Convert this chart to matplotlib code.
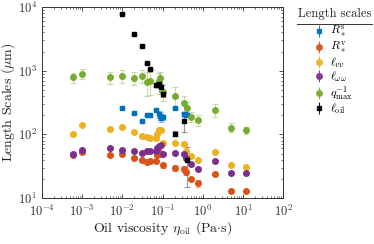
import numpy as np
import matplotlib.pyplot as plt
from matplotlib.lines import Line2D

plt.rcParams['font.family'] = 'serif'
plt.rcParams['font.serif'] = ['cmr10', 'DejaVu Serif']
plt.rcParams['mathtext.fontset'] = 'cm'
plt.rcParams['axes.formatter.use_mathtext'] = True

# viscosities (Pa s) and length scales (um)
eta_s = [0.01, 0.02, 0.03, 0.04, 0.05, 0.07, 0.08, 0.085, 0.09, 0.1, 0.2, 0.35, 0.37, 0.4]
R_s = [258, 213, 160, 198, 203, 238, 208, 195, 182, 186, 260, 205, 210, 200]
R_s_err = [6, 6, 6, 6, 6, 8, 25, 30, 25, 15, 8, 20, 15, 15]

eta = [6e-4, 1e-3, 5e-3, 1e-2, 2e-2, 3e-2, 4e-2, 5e-2, 7e-2, 7.5e-2, 8e-2, 9e-2, 0.1,
       0.2, 0.35, 0.38, 0.5, 0.75, 2, 5, 12]
R_v = [47, 53, 48, 49, 43, 39, 37, 38, 38, 47, 52, 50, 33, 30, 29, 26, 20, 17, 24, 13, 13]
R_v_err = [2, 2, 2, 2, 2, 2, 2, 2, 2, 3, 3, 3, 3, 3, 3, 3, 1.5, 2, 1, 0.5, 0.5]
l_vv = [102, 140, 120, 130, 110, 95, 90, 89, 88, 100, 118, 118, 73, 73, 71, 54, 45, 39, 52, 33, 31]
l_vv_err = [8, 6, 4, 6, 6, 4, 3, 3, 3, 4, 4, 4, 3, 3, 3, 3, 2, 2, 2, 1.5, 1.5]
l_ww = [50, 56, 61, 56, 54, 51, 55, 55, 55, 60, 65, 69, 50, 51, 49, 42, 34, 29, 38, 25, 24.5]
l_ww_err = [2, 3, 2, 2, 2, 2, 2, 2, 2, 2, 2, 2, 2, 2, 2, 2, 2, 1.5, 1.5, 1, 1]

eta_q = [6e-4, 1e-3, 5e-3, 1e-2, 2e-2, 3e-2, 4e-2, 5e-2, 8e-2, 8.5e-2, 0.1, 0.2, 0.35,
         0.4, 0.5, 0.75, 2, 5, 12]
q_inv = [790, 900, 790, 830, 780, 820, 670, 680, 680, 770, 470, 400, 315, 255, 190, 168, 245, 128, 117]
q_inv_err = [140, 150, 170, 180, 190, 190, 270, 270, 250, 200, 130, 150, 90, 70, 35, 35, 55, 20, 15]

eta_oil = [0.01, 0.02, 0.03, 0.04, 0.05, 0.07, 0.075, 0.08, 0.09, 0.1, 0.2, 0.35, 0.4]
l_oil = [7900, 3700, 2450, 1300, 1050, 600, 600, 615, 545, 425, 103, 163, 39]
l_oil_err = [150, 100, 80, 40, 30, 40, 40, 60, 70, 45, 9, 55, 24]

series = [
    (eta_s, R_s, R_s_err, '#0072BD', 's', 2.6, r'$R_*^{\mathrm{s}}$'),
    (eta, R_v, R_v_err, '#D95319', 'o', 4.0, r'$R_*^{\mathrm{v}}$'),
    (eta, l_vv, l_vv_err, '#EDB120', 'o', 4.0, r'$\ell_{vv}$'),
    (eta, l_ww, l_ww_err, '#7E2F8E', 'o', 4.0, r'$\ell_{\omega\omega}$'),
    (eta_q, q_inv, q_inv_err, '#77AC30', 'o', 4.0, r'$q_{\max}^{-1}$'),
    (eta_oil, l_oil, l_oil_err, '#000000', 's', 2.8, r'$\ell_{\mathrm{oil}}$'),
]

fig = plt.figure(figsize=(3.74, 2.44), dpi=100)
ax = fig.add_axes([0.1123, 0.1885, 0.6444, 0.7828])

handles = []
for x, y, e, c, m, ms, lab in series:
    ax.errorbar(x, y, yerr=e, fmt='none', ecolor=c, alpha=0.4, elinewidth=0.8, capsize=2, capthick=0.8)
    ax.plot(x, y, m, color=c, ms=ms, mec=c, zorder=3)
    handles.append(ax.errorbar([], [], yerr=[], fmt=m, color=c, ms=ms, elinewidth=0.8,
                               capsize=2, label=lab, ecolor=c, alpha=0.9))

ax.set_xscale('log')
ax.set_yscale('log')
ax.set_xlim(1e-4, 1e2)
ax.set_ylim(1e1, 1e4)
ax.set_xticks([1e-4, 1e-3, 1e-2, 1e-1, 1e0, 1e1, 1e2])
ax.tick_params(which='both', direction='in', top=True, right=True, labelsize=9, colors='#333333')
ax.tick_params(axis='x', which='major', pad=4.5)
ax.tick_params(which='major', length=3, width=0.6)
ax.tick_params(which='minor', length=1.6, width=0.5)
for s in ax.spines.values():
    s.set_linewidth(0.7)
    s.set_color('#333333')
ax.set_xlabel(r'Oil viscosity $\eta_{\mathrm{oil}}$ (Pa$\cdot$s)', fontsize=10, labelpad=0, color='#222222')
ax.set_ylabel(r'Length Scales ($\mu$m)', fontsize=10, labelpad=1, color='#222222')

fig.text(0.895, 1 - 14 / 244, 'Length scales', fontsize=9, ha='center', va='center', color='#222222')
fig.add_artist(Line2D([0.795, 0.995], [1 - 24 / 244, 1 - 24 / 244], color='#333333', lw=0.7,
                      transform=fig.transFigure))
leg = fig.legend(handles=handles, loc='upper left', bbox_to_anchor=(0.83, 1 - 22 / 244), frameon=False,
                 fontsize=8.5, handlelength=1.0, handletextpad=0.5, labelspacing=0.0,
                 borderaxespad=0, borderpad=0.2)

fig.savefig('out.png', dpi=100)
